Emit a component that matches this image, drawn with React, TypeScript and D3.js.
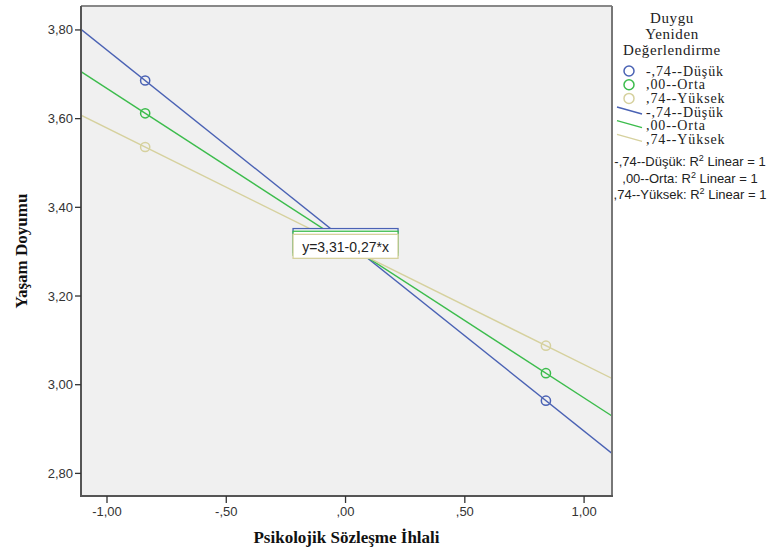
import React from "react";
import * as d3 from "d3";

const groups = ["-,74--Düşük", ",00--Orta", ",74--Yüksek"];
const colors = ["#4a62b4", "#3cbc4c", "#d6d19e"];
const xPoints = [-0.84, 0.84];
const dusuk = [3.686, 2.964];
const orta = [3.612, 3.026];
const yuksek = [3.536, 3.088];
const series = [dusuk, orta, yuksek];
const xTicks = [-1, -0.5, 0, 0.5, 1];
const yTicks = [2.8, 3.0, 3.2, 3.4, 3.6, 3.8];
const xDomain = [-1.109, 1.117];
const yDomain = [2.749, 3.854];

const W = 778, H = 556;
const L = 81, R = 612, T = 6, B = 496;

function fmt(v: number) {
  let s = d3.format(".2f")(v).replace("−", "-").replace(".", ",");
  s = s.replace(/^0,/, ",").replace(/^-0,/, "-,");
  return s;
}
function fmt2(v: number) {
  return d3.format(".2f")(v).replace("−", "-").replace(".", ",");
}

export default function App() {
  const x = d3.scaleLinear().domain(xDomain).range([L, R]);
  const y = d3.scaleLinear().domain(yDomain).range([B, T]);
  const fits = series.map((vals) => {
    const slope = (vals[1] - vals[0]) / (xPoints[1] - xPoints[0]);
    const intercept = vals[0] - slope * xPoints[0];
    return { slope, intercept };
  });
  const line = d3.line<[number, number]>().x((d) => x(d[0])).y((d) => y(d[1]));
  const sans = "Arial, 'Liberation Sans', sans-serif";
  const serif = "'Times New Roman', 'Liberation Serif', serif";
  const boxW = 105, boxH = 24;
  const last = fits.length - 1;
  return (
    <svg width={W} height={H} style={{ position: "absolute", left: 0, top: 0, background: "#fff" }}>
      <defs>
        <clipPath id="plotclip">
          <rect x={L} y={T} width={R - L} height={B - T} />
        </clipPath>
      </defs>
      <rect x={L} y={T} width={R - L} height={B - T} fill="#f0f0f0" />
      <g clipPath="url(#plotclip)">
        {fits.map((f, i) => (
          <path
            key={"l" + i}
            d={line([
              [xDomain[0], f.intercept + f.slope * xDomain[0]],
              [xDomain[1], f.intercept + f.slope * xDomain[1]],
            ]) || ""}
            stroke={colors[i]}
            strokeWidth={1.4}
            fill="none"
          />
        ))}
        {series.map((vals, i) =>
          vals.map((v, j) => (
            <circle key={"c" + i + j} cx={x(xPoints[j])} cy={y(v)} r={4.6} fill="none" stroke={colors[i]} strokeWidth={1.5} />
          ))
        )}
        {fits.map((f, i) => (
          <rect key={"b" + i} x={x(0) - boxW / 2} y={y(f.intercept) - boxH / 2} width={boxW} height={boxH} fill="#fff" stroke={colors[i]} strokeWidth={1.3} />
        ))}
        <text x={x(0)} y={y(fits[last].intercept) + 6} textAnchor="middle" fontFamily={sans} fontSize={14} fill="#222">
          {`y=${fmt2(fits[last].intercept)}-${fmt2(-fits[last].slope)}*x`}
        </text>
      </g>
      {/* frame */}
      <line x1={L} y1={T} x2={R} y2={T} stroke="#888" strokeWidth={2} />
      <line x1={R} y1={T} x2={R} y2={B} stroke="#777" strokeWidth={2} />
      <line x1={L} y1={T} x2={L} y2={B + 1} stroke="#555" strokeWidth={2} />
      <line x1={L - 1} y1={B} x2={R + 1} y2={B} stroke="#555" strokeWidth={2} />
      {yTicks.map((t) => (
        <g key={"yt" + t}>
          <line x1={L - 6} x2={L} y1={y(t)} y2={y(t)} stroke="#333" strokeWidth={1.3} />
          <text x={L - 8} y={y(t) + 4.5} textAnchor="end" fontFamily={sans} fontSize={13} fill="#333">
            {fmt(t)}
          </text>
        </g>
      ))}
      {xTicks.map((t) => (
        <g key={"xt" + t}>
          <line x1={x(t)} x2={x(t)} y1={B} y2={B + 7} stroke="#333" strokeWidth={1.3} />
          <text x={x(t)} y={B + 20} textAnchor="middle" fontFamily={sans} fontSize={13} fill="#333">
            {fmt(t)}
          </text>
        </g>
      ))}
      <text x={(L + R) / 2} y={543} textAnchor="middle" fontFamily={serif} fontWeight="bold" fontSize={17} fill="#111">
        Psikolojik Sözleşme İhlali
      </text>
      <text transform={`translate(27, ${(T + B) / 2}) rotate(-90)`} textAnchor="middle" fontFamily={serif} fontWeight="bold" fontSize={17} fill="#111">
        Yaşam Doyumu
      </text>
      {/* legend */}
      <g fontFamily={serif} fontSize={15} letterSpacing={0.6} fill="#222">
        <text x={672} y={23} textAnchor="middle">Duygu</text>
        <text x={672} y={39} textAnchor="middle">Yeniden</text>
        <text x={672} y={55} textAnchor="middle">Değerlendirme</text>
      </g>
      {groups.map((g, i) => (
        <g key={"lg" + i}>
          <circle cx={629} cy={71 + i * 13.7} r={5} fill="none" stroke={colors[i]} strokeWidth={1.5} />
          <text x={646} y={75.5 + i * 13.7} fontFamily={serif} fontSize={14} letterSpacing={0.9} fill="#222">
            {g}
          </text>
        </g>
      ))}
      {groups.map((g, i) => (
        <g key={"ll" + i}>
          <line x1={617} y1={107 + i * 13.7} x2={642} y2={114 + i * 13.7} stroke={colors[i]} strokeWidth={1.4} />
          <text x={646} y={116.5 + i * 13.7} fontFamily={serif} fontSize={14} letterSpacing={0.9} fill="#222">
            {g}
          </text>
        </g>
      ))}
      {groups.map((g, i) => (
        <text key={"r" + i} x={690} y={166 + i * 16.5} textAnchor="middle" fontFamily={sans} fontSize={13} fill="#222">
          {g}: R<tspan dy={-5} fontSize={9}>2</tspan>
          <tspan dy={5}> Linear = 1</tspan>
        </text>
      ))}
    </svg>
  );
}
